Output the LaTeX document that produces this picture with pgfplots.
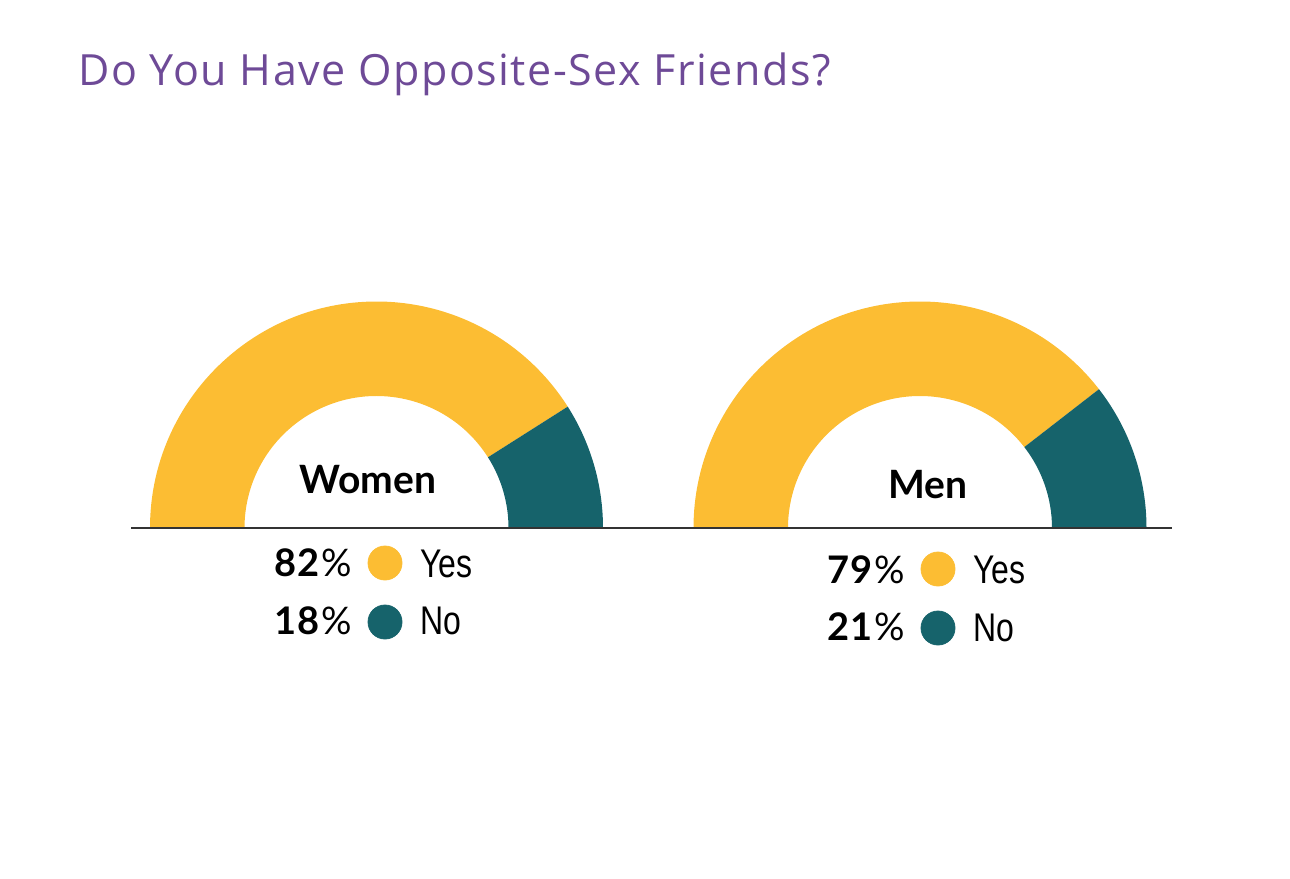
\documentclass[border=0pt]{standalone}
\usepackage{pgfplots}
\pgfplotsset{compat=1.18}
\usepackage{pgfplotstable}
\usepackage{fontspec}
\setmainfont{Lato}
\newfontfamily\legfont{Liberation Sans}
\newfontfamily\titlefont[LetterSpace=3.5]{Open Sans}
\newfontfamily\pctfont[LetterSpace=3]{Lato}
\definecolor{cyes}{HTML}{FCBD33}
\definecolor{cno}{HTML}{16636B}
\definecolor{ctitle}{HTML}{6E4A97}
\definecolor{cline}{HTML}{333333}

\pgfplotstableread{
group yes no cx
Women 82 18 376.5
Men 79 21 920
}\donuts

\newcommand\leg[1]{\scalebox{0.8}[1]{#1}}

\begin{document}
\begin{tikzpicture}
\pgfplotstablegetelem{0}{no}\of\donuts \pgfmathsetmacro\wa{180*\pgfplotsretval/100}
\pgfplotstablegetelem{1}{no}\of\donuts \pgfmathsetmacro\ma{180*\pgfplotsretval/100}
\pgfplotstablegetelem{0}{cx}\of\donuts \let\wcx\pgfplotsretval
\pgfplotstablegetelem{1}{cx}\of\donuts \let\mcx\pgfplotsretval
\def\Ro{113.25pt}
\def\Ri{66pt}
\begin{axis}[
  x=0.5pt, y=0.5pt,
  xmin=0, xmax=1290, ymin=0, ymax=878,
  y dir=reverse,
  hide axis, clip=false,
]
\path (axis cs:0,0) rectangle (axis cs:1290,878);
% Women donut
\begin{scope}[shift={(axis cs:\wcx,528)}]
  \fill[cyes] (180:\Ro) arc[start angle=180,end angle=\wa,radius=\Ro] -- (\wa:\Ri) arc[start angle=\wa,end angle=180,radius=\Ri] -- cycle;
  \fill[cno] (\wa:\Ro) arc[start angle=\wa,end angle=0,radius=\Ro] -- (0:\Ri) arc[start angle=0,end angle=\wa,radius=\Ri] -- cycle;
\end{scope}
% Men donut
\begin{scope}[shift={(axis cs:\mcx,528)}]
  \fill[cyes] (180:\Ro) arc[start angle=180,end angle=\ma,radius=\Ro] -- (\ma:\Ri) arc[start angle=\ma,end angle=180,radius=\Ri] -- cycle;
  \fill[cno] (\ma:\Ro) arc[start angle=\ma,end angle=0,radius=\Ro] -- (0:\Ri) arc[start angle=0,end angle=\ma,radius=\Ri] -- cycle;
\end{scope}
\draw[cline, line width=1pt] (axis cs:131,528) -- (axis cs:1172,528);

% legend markers
\addplot[only marks, mark=*, mark size=8.5pt, cyes, mark options={draw=cyes, fill=cyes}] coordinates {(385,563) (938,569)};
\addplot[only marks, mark=*, mark size=8.5pt, cno, mark options={draw=cno, fill=cno}] coordinates {(385,622) (938,628)};

% texts
\node[anchor=base west, text=ctitle, font=\titlefont\fontsize{21.5}{24}\selectfont, inner sep=0pt] at (axis cs:78,85) {Do You Have Opposite-Sex Friends?};
\node[anchor=base, font=\fontsize{19.5}{22}\selectfont\bfseries, inner sep=0pt] at (axis cs:368,493) {Women};
\node[anchor=base, font=\fontsize{19.5}{22}\selectfont\bfseries, inner sep=0pt] at (axis cs:928,498) {Men};

\node[anchor=base east, font=\pctfont\fontsize{19}{21}\selectfont, inner sep=0pt] at (axis cs:352,576) {\textbf{82}\%};
\node[anchor=base east, font=\pctfont\fontsize{19}{21}\selectfont, inner sep=0pt] at (axis cs:352,634) {\textbf{18}\%};
\node[anchor=base east, font=\pctfont\fontsize{19}{21}\selectfont, inner sep=0pt] at (axis cs:905,583) {\textbf{79}\%};
\node[anchor=base east, font=\pctfont\fontsize{19}{21}\selectfont, inner sep=0pt] at (axis cs:905,640) {\textbf{21}\%};

\node[anchor=base west, font=\legfont\fontsize{20}{22}\selectfont, inner sep=0pt] at (axis cs:420,577) {\leg{Yes}};
\node[anchor=base west, font=\legfont\fontsize{20}{22}\selectfont, inner sep=0pt] at (axis cs:420,634) {\leg{No}};
\node[anchor=base west, font=\legfont\fontsize{20}{22}\selectfont, inner sep=0pt] at (axis cs:973,583) {\leg{Yes}};
\node[anchor=base west, font=\legfont\fontsize{20}{22}\selectfont, inner sep=0pt] at (axis cs:973,641) {\leg{No}};
\end{axis}
\end{tikzpicture}
\end{document}
